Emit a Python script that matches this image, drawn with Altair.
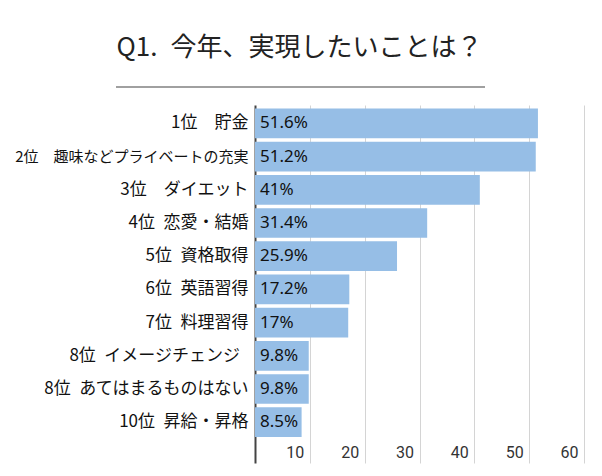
import altair as alt
import pandas as pd

labels = [
    "1位　貯金",
    "2位　趣味などプライベートの充実",
    "3位　ダイエット",
    "4位\u2002恋愛・結婚",
    "5位\u2002資格取得",
    "6位\u2002英語習得",
    "7位\u2002料理習得",
    "8位\u2002イメージチェンジ\u2002\u200b",
    "8位\u2002あてはまるものはない",
    "10位\u2002昇給・昇格",
]
values = [51.6, 51.2, 41, 31.4, 25.9, 17.2, 17, 9.8, 9.8, 8.5]
x_ticks = [10, 20, 30, 40, 50, 60]
title_text = "Q1.\u2002今年、実現したいことは？"

df = pd.DataFrame({"item": labels, "value": values})
df["label"] = [f"{v:g}%" for v in values]

FONT = "Noto Sans CJK JP"

y_enc = alt.Y(
    "item:N",
    sort=labels,
    title=None,
    scale=alt.Scale(paddingInner=0.105, paddingOuter=0.444, align=0.12),
    axis=alt.Axis(
        domain=True,
        domainColor="#444444",
        domainWidth=2,
        ticks=False,
        grid=False,
        labelPadding=7,
        labelFont=FONT,
        labelFontSize=alt.ExprRef(expr="indexof(datum.value, '趣味') >= 0 ? 15 : 17"),
        labelColor="#111111",
        labelLimit=300,
    ),
)

x_enc = alt.X(
    "value:Q",
    title=None,
    scale=alt.Scale(domain=[0, 60], nice=False),
    axis=alt.Axis(
        values=x_ticks,
        domain=False,
        ticks=False,
        grid=True,
        gridColor="#d4d4d4",
        gridWidth=1,
        labelAlign="right",
        labelBaseline="middle",
        labelOffset=-6,
        labelPadding=-11,
        labelFont="Roboto",
        labelFontSize=16,
        labelColor="#333333",
    ),
)

bars = alt.Chart(df).mark_bar(color="#96bee6").encode(x=x_enc, y=y_enc)

text = alt.Chart(df).mark_text(
    align="left", baseline="middle", dx=5, font="Noto Sans", fontSize=17, color="#111111"
).encode(
    x=alt.datum(0),
    y=alt.Y("item:N", sort=labels),
    text="label:N",
)

underline = alt.Chart(df).mark_rule(color="#a0a0a0", strokeWidth=1.5).encode(
    x=alt.value(-139), x2=alt.value(230), y=alt.value(-18)
)

chart = (
    alt.layer(bars, text, underline)
    .properties(
        width=329,
        height=358,
        padding={"left": 247, "top": 97, "right": 10, "bottom": 5},
        autosize=alt.AutoSizeParams(type="none"),
        title=alt.TitleParams(
            title_text,
            font=FONT,
            fontSize=26,
            fontWeight="normal",
            color="#222222",
            anchor="middle",
            frame="group",
            dx=-120,
            offset=25,
        ),
    )
    .configure_view(stroke=None)
)

chart.save("out.html", embed_options={"renderer": "svg", "actions": False})
